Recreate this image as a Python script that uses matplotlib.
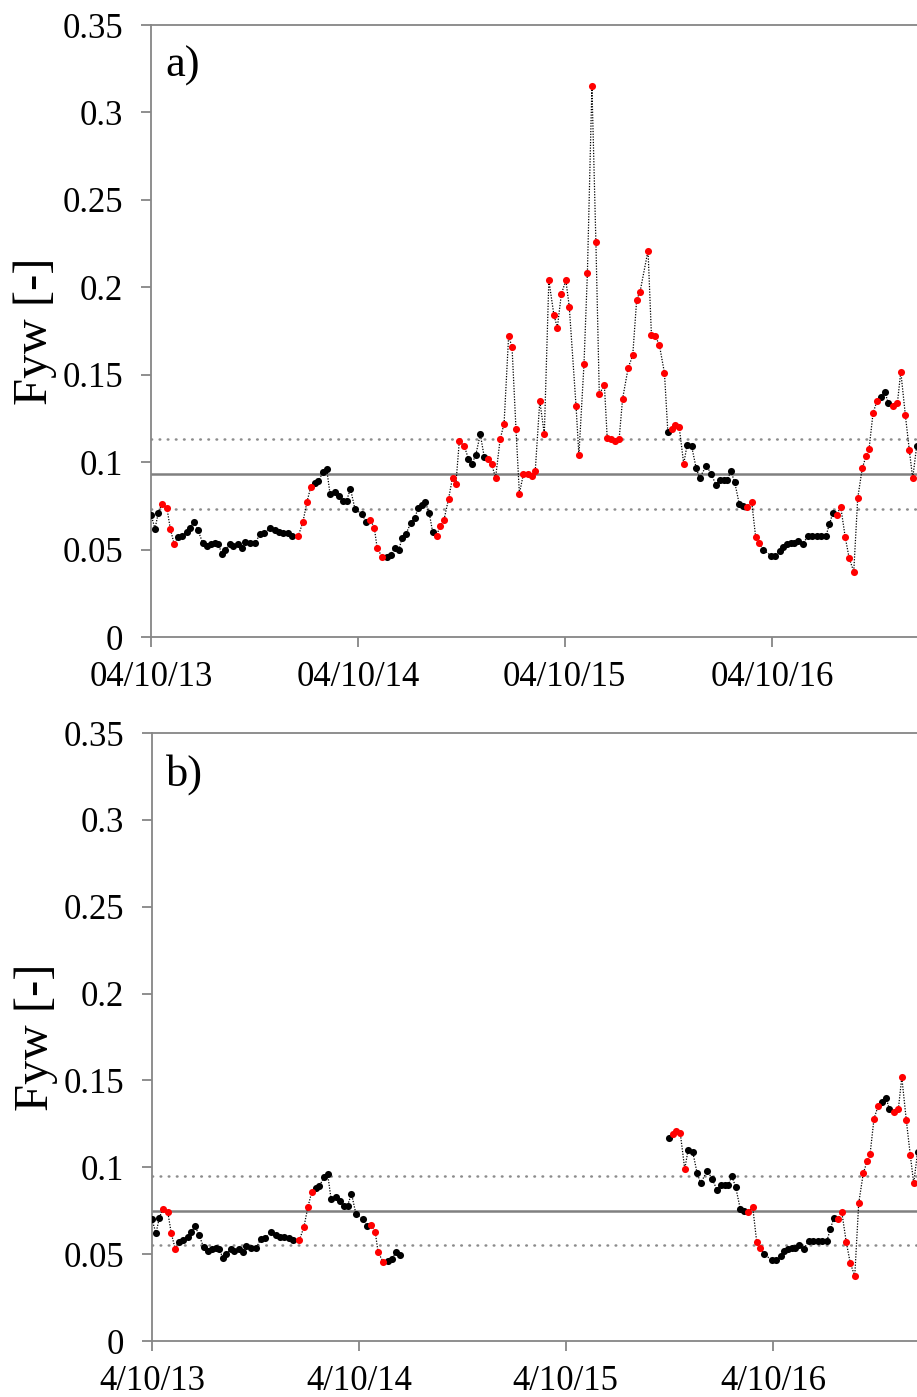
import matplotlib
matplotlib.use("Agg")
import matplotlib.pyplot as plt
import matplotlib.dates as mdates
import numpy as np
import pandas as pd
from matplotlib.ticker import FuncFormatter

# ---------------- data ----------------
start_date = "2013-10-04"
# days since start date of each sample
days = [0, 7, 13, 19, 28, 34, 41, 47, 54, 63, 69, 76, 83, 91, 98, 106, 113, 119, 125, 131,
        139, 145, 153, 160, 166, 175, 184, 192, 200, 210, 219, 226, 233, 241, 248, 260, 268, 275, 282, 289,
        295, 304, 310, 316, 325, 331, 339, 345, 352, 360, 372, 379, 387, 394, 399, 408, 416, 423, 430, 437,
        443, 450, 458, 465, 472, 478, 484, 491, 497, 504, 510, 517, 525, 532, 538, 544, 553, 560, 566, 573,
        581, 588, 595, 601, 608, 616, 623, 631, 637, 644, 650, 657, 665, 672, 678, 686, 694, 702, 711, 717,
        724, 732, 738, 750, 755, 764, 770, 778, 785, 791, 800, 805, 812, 819, 826, 832, 842, 850, 857, 863,
        877, 883, 890, 897, 906, 912, 919, 925, 932, 940, 946, 954, 962, 968, 980, 988, 997, 1004, 1011, 1017,
        1023, 1030, 1038, 1045, 1051, 1060, 1067, 1073, 1080, 1094, 1101, 1109, 1116, 1122, 1129, 1135, 1142, 1150, 1159, 1167,
        1175, 1182, 1191, 1197, 1203, 1210, 1217, 1225, 1232, 1240, 1247, 1255, 1262, 1267, 1274, 1281, 1288, 1295, 1301, 1309,
        1317, 1323, 1331, 1338, 1344, 1351]
fyw = [0.070, 0.062, 0.071, 0.076, 0.074, 0.062, 0.053, 0.057, 0.058, 0.060,
       0.0625, 0.066, 0.061, 0.054, 0.052, 0.053, 0.0535, 0.053, 0.0475, 0.050,
       0.053, 0.052, 0.053, 0.051, 0.0545, 0.0535, 0.0535, 0.059, 0.0595, 0.0625,
       0.061, 0.060, 0.0597, 0.0593, 0.058, 0.058, 0.0656, 0.077, 0.086, 0.088,
       0.089, 0.0946, 0.096, 0.0816, 0.083, 0.0807, 0.078, 0.078, 0.0847, 0.073,
       0.0705, 0.066, 0.067, 0.0625, 0.051, 0.0455, 0.046, 0.047, 0.051, 0.0495,
       0.0565, 0.059, 0.065, 0.068, 0.074, 0.0755, 0.077, 0.0708, 0.060, 0.058,
       0.0635, 0.067, 0.079, 0.091, 0.0875, 0.112, 0.109, 0.102, 0.099, 0.104,
       0.116, 0.103, 0.102, 0.099, 0.091, 0.113, 0.122, 0.172, 0.166, 0.119,
       0.082, 0.093, 0.093, 0.092, 0.095, 0.135, 0.116, 0.204, 0.184, 0.177,
       0.196, 0.204, 0.189, 0.132, 0.104, 0.156, 0.208, 0.315, 0.226, 0.139,
       0.144, 0.1137, 0.113, 0.112, 0.113, 0.136, 0.154, 0.161, 0.193, 0.1975,
       0.221, 0.1727, 0.172, 0.167, 0.151, 0.117, 0.119, 0.121, 0.120, 0.099,
       0.110, 0.109, 0.0965, 0.091, 0.098, 0.0935, 0.087, 0.090, 0.0897, 0.0897,
       0.095, 0.0885, 0.076, 0.075, 0.0745, 0.077, 0.057, 0.0536, 0.050, 0.0465,
       0.0465, 0.049, 0.0517, 0.053, 0.0536, 0.0536, 0.055, 0.053, 0.0578, 0.0578,
       0.0578, 0.0578, 0.0578, 0.0645, 0.0708, 0.070, 0.0745, 0.057, 0.045, 0.0374,
       0.0793, 0.0965, 0.1037, 0.1075, 0.128, 0.135, 0.1375, 0.140, 0.1337, 0.132,
       0.1337, 0.1518, 0.127, 0.107, 0.0908, 0.109]
# colour class of each sample, as runs (colour, number of consecutive samples)
flag_runs = [("k", 3), ("r", 4), ("k", 28), ("r", 4), ("k", 13), ("r", 4), ("k", 13),
             ("r", 8), ("k", 5), ("r", 43), ("k", 1), ("r", 4), ("k", 14), ("r", 4),
             ("k", 17), ("r", 11), ("k", 3), ("r", 6), ("k", 1)]

mean_a, band_a = 0.093, 0.020
mean_b, band_b = 0.075, 0.020
# samples left out of panel b (days strictly between these)
gap_b = (437, 912)

yticks = [0, 0.05, 0.1, 0.15, 0.2, 0.25, 0.3, 0.35]
xtick_dates = ["2013-10-04", "2014-10-04", "2015-10-04", "2016-10-04"]
x_end_date = "2017-10-04"
panel_labels = ["a)", "b)"]
ylabel = "Fyw [-]"

# ---------------- figure ----------------
plt.rcParams["font.family"] = ["Liberation Serif", "DejaVu Serif"]
W, H = 917, 1397
fig = plt.figure(figsize=(W / 100, H / 100), dpi=100)

flags = "".join(c * n for c, n in flag_runs)
days_arr = np.array(days)
fyw_arr = np.array(fyw)
flag_arr = np.array(list(flags))
x_all = mdates.date2num(pd.Timestamp(start_date).to_pydatetime()) + days_arr
xt = [mdates.date2num(pd.Timestamp(d).to_pydatetime()) for d in xtick_dates]
x_end = mdates.date2num(pd.Timestamp(x_end_date).to_pydatetime())

ax_px_w = 828  # width of axes in pixels (extends past the right edge)
axes_boxes = [(151, 25, 637), (152, 733, 1341)]
GRAY = "#868686"
RED = "#ff0000"


def fmt_a(v, p):
    d = mdates.num2date(v)
    return f"{d.day:02d}/{d.month:02d}/{d.year % 100:02d}"


def fmt_b(v, p):
    d = mdates.num2date(v)
    return f"{d.day}/{d.month:02d}/{d.year % 100:02d}"


def draw_series(ax, mask):
    xs, ys, fs = x_all[mask], fyw_arr[mask], flag_arr[mask]
    ax.plot(xs, ys, color="black", lw=0.9, ls=(0, (1, 1.2)), zorder=3)
    for c, col in (("k", "black"), ("r", RED)):
        m = fs == c
        ax.plot(xs[m], ys[m], ls="none", marker="o", ms=5.1, mfc=col, mec="none", zorder=4)


for i, (left, top, bottom) in enumerate(axes_boxes):
    ax = fig.add_axes([left / W, 1 - bottom / H, ax_px_w / W, (bottom - top) / H])
    mean, band = (mean_a, band_a) if i == 0 else (mean_b, band_b)
    ax.axhline(mean, color="#808080", lw=1.8, zorder=2)
    for v in (mean - band, mean + band):
        ax.axhline(v, color="#8c8c8c", lw=1.8, ls=(0, (0.25, 3.0)), dash_capstyle="round", zorder=2)
    if i == 0:
        draw_series(ax, np.ones(len(days_arr), bool))
    else:
        draw_series(ax, days_arr <= gap_b[0])
        draw_series(ax, days_arr >= gap_b[1])

    ax.set_xlim(xt[0], x_end)
    ax.set_ylim(0, 0.35)
    ax.set_yticks(yticks)
    ax.yaxis.set_major_formatter(FuncFormatter(lambda v, p: f"{v:g}"))
    ax.set_xticks(xt)
    ax.xaxis.set_major_formatter(FuncFormatter(fmt_a if i == 0 else fmt_b))
    for s in ("left", "bottom", "top"):
        ax.spines[s].set_color(GRAY)
        ax.spines[s].set_linewidth(1.3)
    ax.spines["right"].set_visible(False)
    ax.tick_params(axis="both", direction="out", length=7.2, width=1.3, color=GRAY,
                   labelsize=25, labelcolor="black")
    ax.tick_params(axis="y", pad=13)
    ax.tick_params(axis="x", pad=10)
    ax.set_ylabel(ylabel, fontsize=35, labelpad=4)
    ax.text(0.017, 0.966, panel_labels[i], transform=ax.transAxes, fontsize=32,
            ha="left", va="top")

fig.savefig("out.png", dpi=100)
